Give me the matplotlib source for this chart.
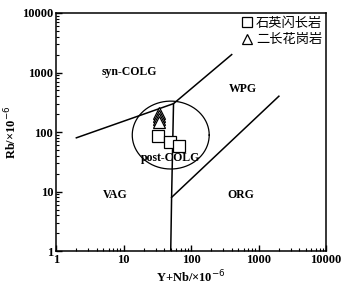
import numpy as np
import matplotlib
matplotlib.use("Agg")
import matplotlib.pyplot as plt
from matplotlib.ticker import LogLocator, NullFormatter, FixedLocator, FixedFormatter

# Boundary lines (Pearce 1984)
syn_vag_x = [2, 55, 400]
syn_vag_y = [80, 300, 2000]
vert_x = [55, 51.5, 50]
vert_y = [300, 8, 1]
wpg_org_x = [51.5, 2000]
wpg_org_y = [8, 400]

# post-COLG circle (log-space center / radius)
circle_cx, circle_cy, circle_r = 50, 89, 0.57

# Data
qd_x = [32.5, 49, 66]      # 石英闪长岩
qd_y = [86, 69, 58]
gr_x = [33.6, 33.6, 33.6, 33.6]   # 二长花岗岩
gr_y = [209, 186, 166, 148]

ticks = [1, 10, 100, 1000, 10000]
tick_labels = ["1", "10", "100", "1000", "10000"]

serif = ["Liberation Serif", "DejaVu Serif"]
cjk = ["Noto Sans CJK SC", "DejaVu Sans"]

fig = plt.figure(figsize=(3.48, 2.88), dpi=100)
ax = fig.add_axes([0.161, 0.128, 0.776, 0.827])
ax.set_xscale("log")
ax.set_yscale("log")
ax.set_xlim(1, 10000)
ax.set_ylim(1, 10000)

lw = 1.1
ax.plot(syn_vag_x, syn_vag_y, color="black", lw=lw)
ax.plot(vert_x, vert_y, color="black", lw=lw)
ax.plot(wpg_org_x, wpg_org_y, color="black", lw=lw)

t = np.linspace(0, 2 * np.pi, 300)
cxl, cyl = np.log10(circle_cx), np.log10(circle_cy)
ax.plot(10 ** (cxl + circle_r * np.cos(t)), 10 ** (cyl + circle_r * np.sin(t)),
        color="black", lw=0.9)

ax.plot(qd_x, qd_y, ls="none", marker="s", ms=8, mfc="white", mec="black", mew=0.9,
        label="石英闪长岩")
ax.plot(gr_x, gr_y, ls="none", marker="^", ms=9, mfc="white", mec="black", mew=0.9,
        label="二长花岗岩")

for txt, x, y in [("syn-COLG", 12, 1020), ("WPG", 590, 530), ("VAG", 7.5, 8.7),
                  ("ORG", 550, 8.7), ("post-COLG", 50, 37)]:
    ax.text(x, y, txt, ha="center", va="center", fontsize=8.5, fontweight="bold",
            family=serif)

leg = ax.legend(loc="upper right", frameon=False, prop={"family": cjk, "size": 9.5},
                handletextpad=0.15, borderaxespad=0.1, labelspacing=0.25,
                handlelength=1.1, borderpad=0.2, markerscale=0.85)

ax.xaxis.set_major_locator(FixedLocator(ticks))
ax.xaxis.set_major_formatter(FixedFormatter(tick_labels))
ax.yaxis.set_major_locator(FixedLocator(ticks))
ax.yaxis.set_major_formatter(FixedFormatter(tick_labels))
ax.xaxis.set_minor_locator(LogLocator(base=10, subs=np.arange(2, 10)))
ax.yaxis.set_minor_locator(LogLocator(base=10, subs=np.arange(2, 10)))
ax.xaxis.set_minor_formatter(NullFormatter())
ax.yaxis.set_minor_formatter(NullFormatter())
ax.tick_params(which="both", direction="in", top=False, right=False)
ax.tick_params(which="major", length=4, width=1, pad=2)
ax.tick_params(which="minor", length=2.5, width=0.8)
for lab in ax.get_xticklabels() + ax.get_yticklabels():
    lab.set_family(serif)
    lab.set_fontweight("bold")
    lab.set_fontsize(9)
for s in ax.spines.values():
    s.set_linewidth(1.1)

ax.set_xlabel("Y+Nb/×10$^{-6}$", family=serif, fontweight="bold", fontsize=9, labelpad=2)
ax.set_ylabel("Rb/×10$^{-6}$", family=serif, fontweight="bold", fontsize=9)
ax.yaxis.set_label_coords(-0.135, 0.5)

fig.savefig("out.png", dpi=100)
